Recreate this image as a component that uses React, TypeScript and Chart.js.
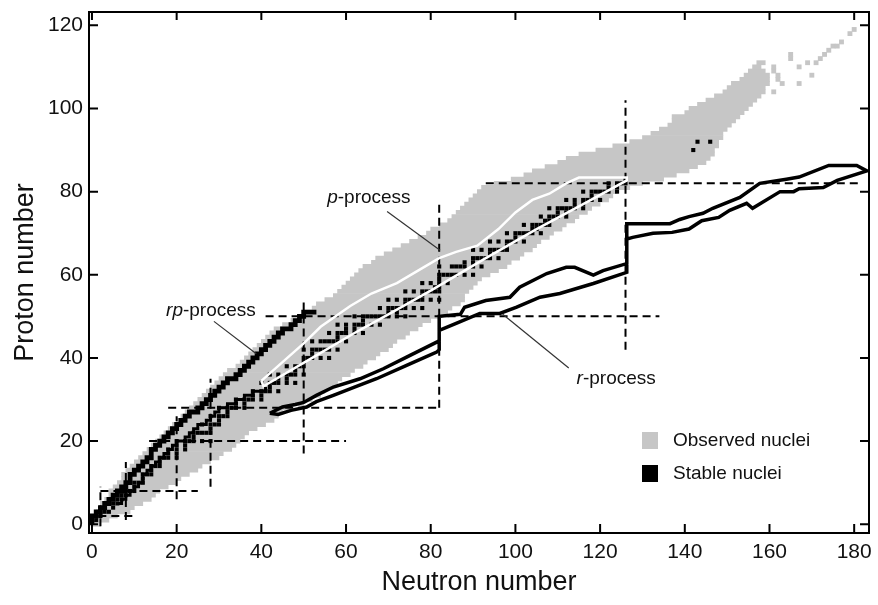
import React, { useEffect, useRef } from 'react';
import { Chart, registerables } from 'chart.js';

Chart.register(...registerables);

// ---------- axes ----------
const xTicks = [0, 20, 40, 60, 80, 100, 120, 140, 160, 180];
const yTicks = [0, 20, 40, 60, 80, 100, 120];
const xTitle = 'Neutron number';
const yTitle = 'Proton number';

// ---------- observed nuclei: for each proton number Z, the span of observed neutron numbers ----------
const bandZ = [
  0, 1, 2, 3, 4, 5, 6, 7, 8, 9, 10, 11, 12, 13, 14, 15, 16, 17, 18, 19,
  20, 21, 22, 23, 24, 25, 26, 27, 28, 29, 30, 31, 32, 33, 34, 35, 36, 37, 38, 39,
  40, 41, 42, 43, 44, 45, 46, 47, 48, 49, 50, 51, 52, 53, 54, 55, 56, 57, 58, 59,
  60, 61, 62, 63, 64, 65, 66, 67, 68, 69, 70, 71, 72, 73, 74, 75, 76, 77, 78, 79,
  80, 81, 82, 83, 84, 85, 86, 87, 88, 89, 90, 91, 92, 93, 94, 95, 96, 97, 98, 99,
  100, 101, 102, 103, 104, 105, 106, 107, 108, 109, 110, 111,
];
const bandNmin = [
  0, 0, 1, 1, 2, 2, 3, 4, 4, 5, 6, 7, 7, 8, 9, 10, 11, 12, 13, 14,
  15, 16, 17, 18, 19, 20, 21, 22, 23, 24, 25, 26, 27, 28, 29, 30, 31, 32, 34, 35,
  36, 37, 38, 39, 40, 41, 42, 43, 45, 47, 49, 50, 52, 53, 55, 57, 58, 59, 60, 61,
  62, 63, 64, 66, 67, 69, 71, 73, 75, 77, 79, 80, 82, 84, 85, 86, 87, 88, 89, 90,
  91, 92, 95, 99, 102, 104, 107, 110, 112, 115, 119, 123, 127, 130, 132, 134, 136, 137, 137, 140,
  141, 143, 145, 147, 149, 150, 151, 153, 154, 155, 156, 157,
];
const bandNmax = [
  2, 4, 6, 9, 10, 12, 14, 15, 16, 18, 20, 21, 23, 25, 26, 28, 30, 31, 33, 34,
  35, 36, 37, 39, 41, 43, 44, 45, 47, 50, 52, 54, 55, 57, 58, 59, 61, 62, 64, 65,
  67, 68, 70, 71, 72, 74, 75, 77, 78, 80, 82, 84, 85, 87, 88, 88, 89, 90, 91, 92,
  94, 96, 98, 99, 101, 102, 104, 105, 106, 108, 109, 111, 112, 114, 115, 117, 118, 120, 122, 123,
  124, 127, 130, 135, 138, 141, 143, 145, 146, 147, 147, 148, 148, 149, 149, 150, 151, 152, 153, 154,
  155, 156, 157, 158, 159, 159, 160, 160, 160, 159, 158, 159,
];
// isolated observed cells beyond the main band (superheavy region)
const extraN = [161, 163, 167, 162, 161, 161, 162, 165, 165, 167, 170, 169, 171, 172, 173, 174, 175, 176, 177, 179, 180];
const extraZ = [104, 106, 106, 107, 109, 110, 108, 112, 113, 110, 108, 111, 111, 112, 113, 114, 115, 115, 116, 118, 119];

// ---------- stable nuclei: [Z, stable N values] ----------
const stableNuclei: [number, number[]][] = [
  [1, [0, 1]], [2, [1, 2]], [3, [3, 4]], [4, [5]], [5, [5, 6]], [6, [6, 7]], [7, [7, 8]],
  [8, [8, 9, 10]], [9, [10]], [10, [10, 11, 12]], [11, [12]], [12, [12, 13, 14]], [13, [14]],
  [14, [14, 15, 16]], [15, [16]], [16, [16, 17, 18, 20]], [17, [18, 20]], [18, [18, 20, 22]],
  [19, [20, 22]], [20, [20, 22, 23, 24, 26, 28]], [21, [24]], [22, [24, 25, 26, 27, 28]],
  [23, [28]], [24, [26, 28, 29, 30]], [25, [30]], [26, [28, 30, 31, 32]], [27, [32]],
  [28, [30, 32, 33, 34, 36]], [29, [34, 36]], [30, [34, 36, 37, 38, 40]], [31, [38, 40]],
  [32, [38, 40, 41, 42, 44]], [33, [42]], [34, [40, 42, 43, 44, 46, 48]], [35, [44, 46]],
  [36, [42, 44, 46, 47, 48, 50]], [37, [48]], [38, [46, 48, 49, 50]], [39, [50]],
  [40, [50, 51, 52, 54, 56]], [41, [52]], [42, [50, 52, 53, 54, 55, 56, 58]],
  [44, [52, 54, 55, 56, 57, 58, 60]], [45, [58]], [46, [56, 58, 59, 60, 62, 64]], [47, [60, 62]],
  [48, [58, 60, 62, 63, 64, 66, 68]], [49, [64]], [50, [62, 64, 65, 66, 67, 68, 69, 70, 72, 74]],
  [51, [70, 72]], [52, [68, 70, 71, 72, 73, 74, 76, 78]], [53, [74]],
  [54, [70, 72, 74, 75, 76, 77, 78, 80, 82]], [55, [78]], [56, [74, 76, 78, 79, 80, 81, 82]],
  [57, [81, 82]], [58, [78, 80, 82, 84]], [59, [82]], [60, [82, 83, 84, 85, 86, 88, 90]],
  [62, [82, 85, 86, 87, 88, 90, 92]], [63, [88, 90]], [64, [90, 91, 92, 93, 94, 96]], [65, [94]],
  [66, [90, 92, 94, 95, 96, 97, 98]], [67, [98]], [68, [94, 96, 98, 99, 100, 102]], [69, [100]],
  [70, [98, 100, 101, 102, 103, 104, 106]], [71, [104, 105]], [72, [102, 104, 105, 106, 107, 108]],
  [73, [107, 108]], [74, [106, 108, 109, 110, 112]], [75, [110, 112]],
  [76, [108, 110, 111, 112, 113, 114, 116]], [77, [114, 116]], [78, [112, 114, 116, 117, 118, 120]],
  [79, [118]], [80, [116, 118, 119, 120, 121, 122, 124]], [81, [122, 124]],
  [82, [122, 124, 125, 126]], [83, [126]], [90, [142]], [92, [143, 146]],
];

// ---------- magic numbers (dashed guide lines) ----------
// horizontal: [Z, N from, N to]
const magicZLines: [number, number, number][] = [
  [2, 1.5, 10.5], [8, 2, 25], [20, 13.5, 60], [28, 18, 82], [50, 41, 134], [82, 93, 181],
];
// vertical: [N, Z from, Z to]
const magicNLines: [number, number, number][] = [
  [2, -0.5, 9], [8, 1, 15], [20, 6, 26], [28, 9, 35], [50, 17, 54], [82, 28, 78], [126, 42, 102],
];

// ---------- rp-process path (staircases: Z and N) ----------
const rpUpperZ = [
  0, 1, 2, 3, 4, 5, 6, 7, 8, 9, 10, 11, 12, 13, 14, 15, 16, 17, 18, 19, 20, 21, 22, 23, 24, 25,
  26, 27, 28, 29, 30, 31, 32, 33, 34, 35, 36, 37, 38, 39, 40, 41, 42, 43, 44, 45, 46, 47, 48, 49, 50, 51,
];
const rpUpperN = [
  0, 0, 1, 2, 3, 4, 5, 6, 7, 8, 9, 9, 10, 11, 12, 13, 14, 14, 15, 16, 17, 18, 19, 20, 21, 22,
  23, 25, 26, 27, 28, 29, 30, 31, 32, 34, 35, 36, 37, 38, 39, 40, 41, 42, 43, 44, 45, 47, 48, 49, 50, 53,
];
const rpLowerZ = [5, 6, 7, 8, 9, 10, 11, 12, 13, 14, 15, 16, 17, 18, 19, 20, 21, 22, 23, 24, 25, 26, 27, 28, 29, 30, 31, 32, 33];
const rpLowerN = [6, 7, 8, 9, 10, 11, 12, 12, 13, 14, 15, 16, 17, 18, 19, 20, 22, 23, 24, 25, 27, 28, 29, 30, 32, 34, 36, 38, 41];

// ---------- p-process outline (closed) ----------
const pProcN = [40, 45, 50, 54, 61, 66, 72, 77, 82, 86, 91, 96, 100, 104, 108, 112, 115, 126.3,
  126.3, 116, 105, 93, 80, 70, 62, 52, 40.5, 40];
const pProcZ = [34.5, 39, 43.5, 47.5, 52.5, 55.5, 58, 61, 64, 65.5, 67, 71, 75, 78, 79.5, 82, 83.4, 83.4,
  82.7, 77, 71, 64, 56.2, 50.5, 46, 40, 33.2, 34.5];

// ---------- r-process outline (upper edge then lower edge back) ----------
const rUpperN = [42, 45, 48, 50, 53, 57, 63.3, 68.8, 74.3, 81.4, 82, 82, 87, 88, 93, 98.7, 101, 107.4, 112, 114,
  118.4, 120.7, 126.3, 126.3, 136.5, 138.8, 141, 144.3, 146.6, 153, 157.7, 164, 167, 174, 180.6, 183];
const rUpperZ = [26.7, 28.2, 28.8, 29.3, 31, 33, 35, 37.4, 40.2, 43.8, 44.2, 50, 50.5, 52.2, 53.8, 54.6, 57, 60.3, 61.8, 61.8,
  59.9, 61, 62.7, 72.3, 72.3, 73.3, 74, 74.8, 76, 78.6, 82, 83, 83.5, 86.3, 86.3, 85];
const rLowerN = [42, 44, 47, 50.7, 53, 57, 62, 67.2, 74.3, 81.4, 82, 82, 86, 91.6, 96.3, 100.3, 105.8, 110.5, 118.4,
  126.3, 126.3, 127.7, 132.5, 137, 141, 144, 148, 150.6, 154.6, 156, 162.5, 165.7, 167, 172.7, 176, 183];
const rLowerZ = [26.7, 26.4, 27.4, 28.2, 29.5, 31, 33, 35, 38.2, 41.4, 42, 46.6, 48.3, 50.7, 50.7, 52.2, 54.6, 55.5, 57.9,
  60.6, 68.6, 69, 70, 70.2, 71, 73, 73.8, 75.5, 77.2, 76, 80, 80, 80.7, 81, 82.7, 85];

// ---------- annotations (label centre and leader line, in N/Z units) ----------
const annotations = [
  { parts: [['rp', true], ['-process', false]] as [string, boolean][], n: 28.1, z: 51.4, leader: [28.8, 48.8, 38.8, 41.0] },
  { parts: [['p', true], ['-process', false]] as [string, boolean][], n: 65.4, z: 78.6, leader: [69.7, 75.2, 82.2, 65.9] },
  { parts: [['r', true], ['-process', false]] as [string, boolean][], n: 123.8, z: 35.1, leader: [97.0, 50.5, 112.6, 37.6] },
];
const legendItems = [
  { label: 'Observed nuclei', color: '#c6c6c6' },
  { label: 'Stable nuclei', color: '#000000' },
];

const FONT = "'Liberation Sans', Arial, Helvetica, sans-serif";
const GRAY = '#c6c6c6';

const overlayPlugin = {
  id: 'overlay',
  afterDatasetsDraw(chart: any) {
    const { ctx, chartArea: a, scales } = chart;
    const xs = scales.x;
    const ys = scales.y;
    ctx.save();
    // leader lines
    ctx.strokeStyle = '#333';
    ctx.lineWidth = 1.2;
    for (const an of annotations) {
      const [n1, z1, n2, z2] = an.leader;
      ctx.beginPath();
      ctx.moveTo(xs.getPixelForValue(n1), ys.getPixelForValue(z1));
      ctx.lineTo(xs.getPixelForValue(n2), ys.getPixelForValue(z2));
      ctx.stroke();
    }
    // labels with italic part
    ctx.fillStyle = '#111';
    ctx.textBaseline = 'middle';
    ctx.textAlign = 'left';
    for (const an of annotations) {
      let total = 0;
      const widths: number[] = [];
      for (const [t, it] of an.parts) {
        ctx.font = `${it ? 'italic ' : ''}19px ${FONT}`;
        const w = ctx.measureText(t).width;
        widths.push(w);
        total += w;
      }
      let px = xs.getPixelForValue(an.n) - total / 2;
      const py = ys.getPixelForValue(an.z);
      an.parts.forEach(([t, it], i) => {
        ctx.font = `${it ? 'italic ' : ''}19px ${FONT}`;
        ctx.fillText(t, px, py);
        px += widths[i];
      });
    }
    // legend
    ctx.font = `19px ${FONT}`;
    legendItems.forEach((item, i) => {
      const lx = a.left + 553;
      const ly = a.top + 420 + i * 33;
      ctx.fillStyle = item.color;
      ctx.fillRect(lx, ly, 16, 17);
      ctx.fillStyle = '#111';
      ctx.fillText(item.label, lx + 31, ly + 9);
    });
    // frame
    ctx.strokeStyle = '#000';
    ctx.lineWidth = 2;
    ctx.strokeRect(a.left, a.top, a.right - a.left, a.bottom - a.top);
    // inward ticks on all four sides
    ctx.beginPath();
    for (const v of xTicks) {
      const p = xs.getPixelForValue(v);
      ctx.moveTo(p, a.bottom); ctx.lineTo(p, a.bottom - 9);
      ctx.moveTo(p, a.top); ctx.lineTo(p, a.top + 8);
    }
    for (const v of yTicks) {
      const p = ys.getPixelForValue(v);
      ctx.moveTo(a.left, p); ctx.lineTo(a.left + 9, p);
      ctx.moveTo(a.right, p); ctx.lineTo(a.right - 9, p);
    }
    ctx.stroke();
    ctx.restore();
  },
};

function lineDs(data: { x: number; y: number }[], color: string, width: number, order: number, extra: any = {}) {
  return {
    type: 'line' as const,
    data,
    borderColor: color,
    borderWidth: width,
    pointRadius: 0,
    fill: false,
    tension: 0,
    order,
    ...extra,
  };
}

export default function App() {
  const ref = useRef<HTMLCanvasElement>(null);
  useEffect(() => {
    document.body.style.margin = '0';
    Chart.defaults.font.family = FONT;
    Chart.defaults.color = '#000';

    const bandData = bandZ.map((z, i) => ({ x: [bandNmin[i], bandNmax[i]], y: z }));
    const extraData = extraZ.map((z, i) => ({ x: [extraN[i] - 0.5, extraN[i] + 0.5], y: z }));
    const stableData: { x: number; y: number }[] = [];
    stableNuclei.forEach(([z, ns]) => ns.forEach((n) => stableData.push({ x: n, y: z })));

    const datasets: any[] = [
      {
        type: 'bar', label: 'Observed nuclei', indexAxis: 'y', data: bandData, backgroundColor: GRAY,
        borderWidth: 0, barPercentage: 1, categoryPercentage: 1, grouped: false, order: 30,
      },
      {
        type: 'bar', label: 'Observed nuclei (isolated)', indexAxis: 'y', data: extraData, backgroundColor: GRAY,
        borderWidth: 0, barPercentage: 1, categoryPercentage: 1, grouped: false, order: 30,
      },
      {
        type: 'scatter', label: 'Stable nuclei', data: stableData, pointStyle: 'rect', pointRadius: 2.9,
        backgroundColor: '#000', borderWidth: 0, order: 25,
      },
    ];
    magicZLines.forEach(([z, n1, n2]) =>
      datasets.push(lineDs([{ x: n1, y: z }, { x: n2, y: z }], '#000', 2, 20, { borderDash: [8, 5] })));
    magicNLines.forEach(([n, z1, z2]) =>
      datasets.push(lineDs([{ x: n, y: z1 }, { x: n, y: z2 }], '#000', 2, 20, { borderDash: [8, 5] })));

    const rData = [
      ...rUpperN.map((n, i) => ({ x: n, y: rUpperZ[i] })),
      ...rLowerN.map((n, i) => ({ x: n, y: rLowerZ[i] })).reverse(),
    ];
    datasets.push(lineDs(rData, '#000', 3.5, 15, { label: 'r-process' }));
    datasets.push(lineDs(pProcN.map((n, i) => ({ x: n, y: pProcZ[i] })), '#ffffff', 2.5, 12, { label: 'p-process' }));
    datasets.push(lineDs(rpUpperN.map((n, i) => ({ x: n, y: rpUpperZ[i] })), '#000', 4.8, 10, { stepped: 'after', label: 'rp-process' }));
    datasets.push(lineDs(rpLowerN.map((n, i) => ({ x: n, y: rpLowerZ[i] })), '#000', 3, 10, { stepped: 'before' }));

    const chart = new Chart(ref.current as HTMLCanvasElement, {
      type: 'scatter',
      data: { datasets },
      options: {
        responsive: false,
        animation: false,
        events: [],
        layout: { padding: { top: 12, right: 9, left: 0, bottom: 0 } },
        plugins: { legend: { display: false }, tooltip: { enabled: false } },
        scales: {
          x: {
            type: 'linear', min: -0.7, max: 183.5, offset: false,
            grid: { display: false, drawTicks: false, offset: false },
            border: { display: false },
            ticks: { font: { size: 21, family: FONT }, color: '#111', padding: 7 },
            afterBuildTicks: (s: any) => { s.ticks = xTicks.map((v) => ({ value: v })); },
            afterFit: (s: any) => { s.height = 72; s.paddingLeft = 0; s.paddingRight = 0; },
            title: { display: true, text: xTitle, font: { size: 27, family: FONT }, color: '#111', padding: { top: 0, bottom: 6 } },
          },
          y: {
            type: 'linear', min: -2.1, max: 123.2, offset: false,
            grid: { display: false, drawTicks: false, offset: false },
            border: { display: false },
            ticks: { font: { size: 21, family: FONT }, color: '#111', padding: 6 },
            afterBuildTicks: (s: any) => { s.ticks = yTicks.map((v) => ({ value: v })); },
            afterFit: (s: any) => { s.width = 89; s.paddingTop = 0; s.paddingBottom = 0; },
            title: { display: true, text: yTitle, font: { size: 27, family: FONT }, color: '#111', padding: { top: 9, bottom: 0 } },
          },
        },
      } as any,
      plugins: [overlayPlugin],
    });
    return () => chart.destroy();
  }, []);
  return (
    <div style={{ width: 878, height: 605, position: 'relative' }}>
      <canvas ref={ref} width={878} height={605} style={{ display: 'block' }} />
    </div>
  );
}
